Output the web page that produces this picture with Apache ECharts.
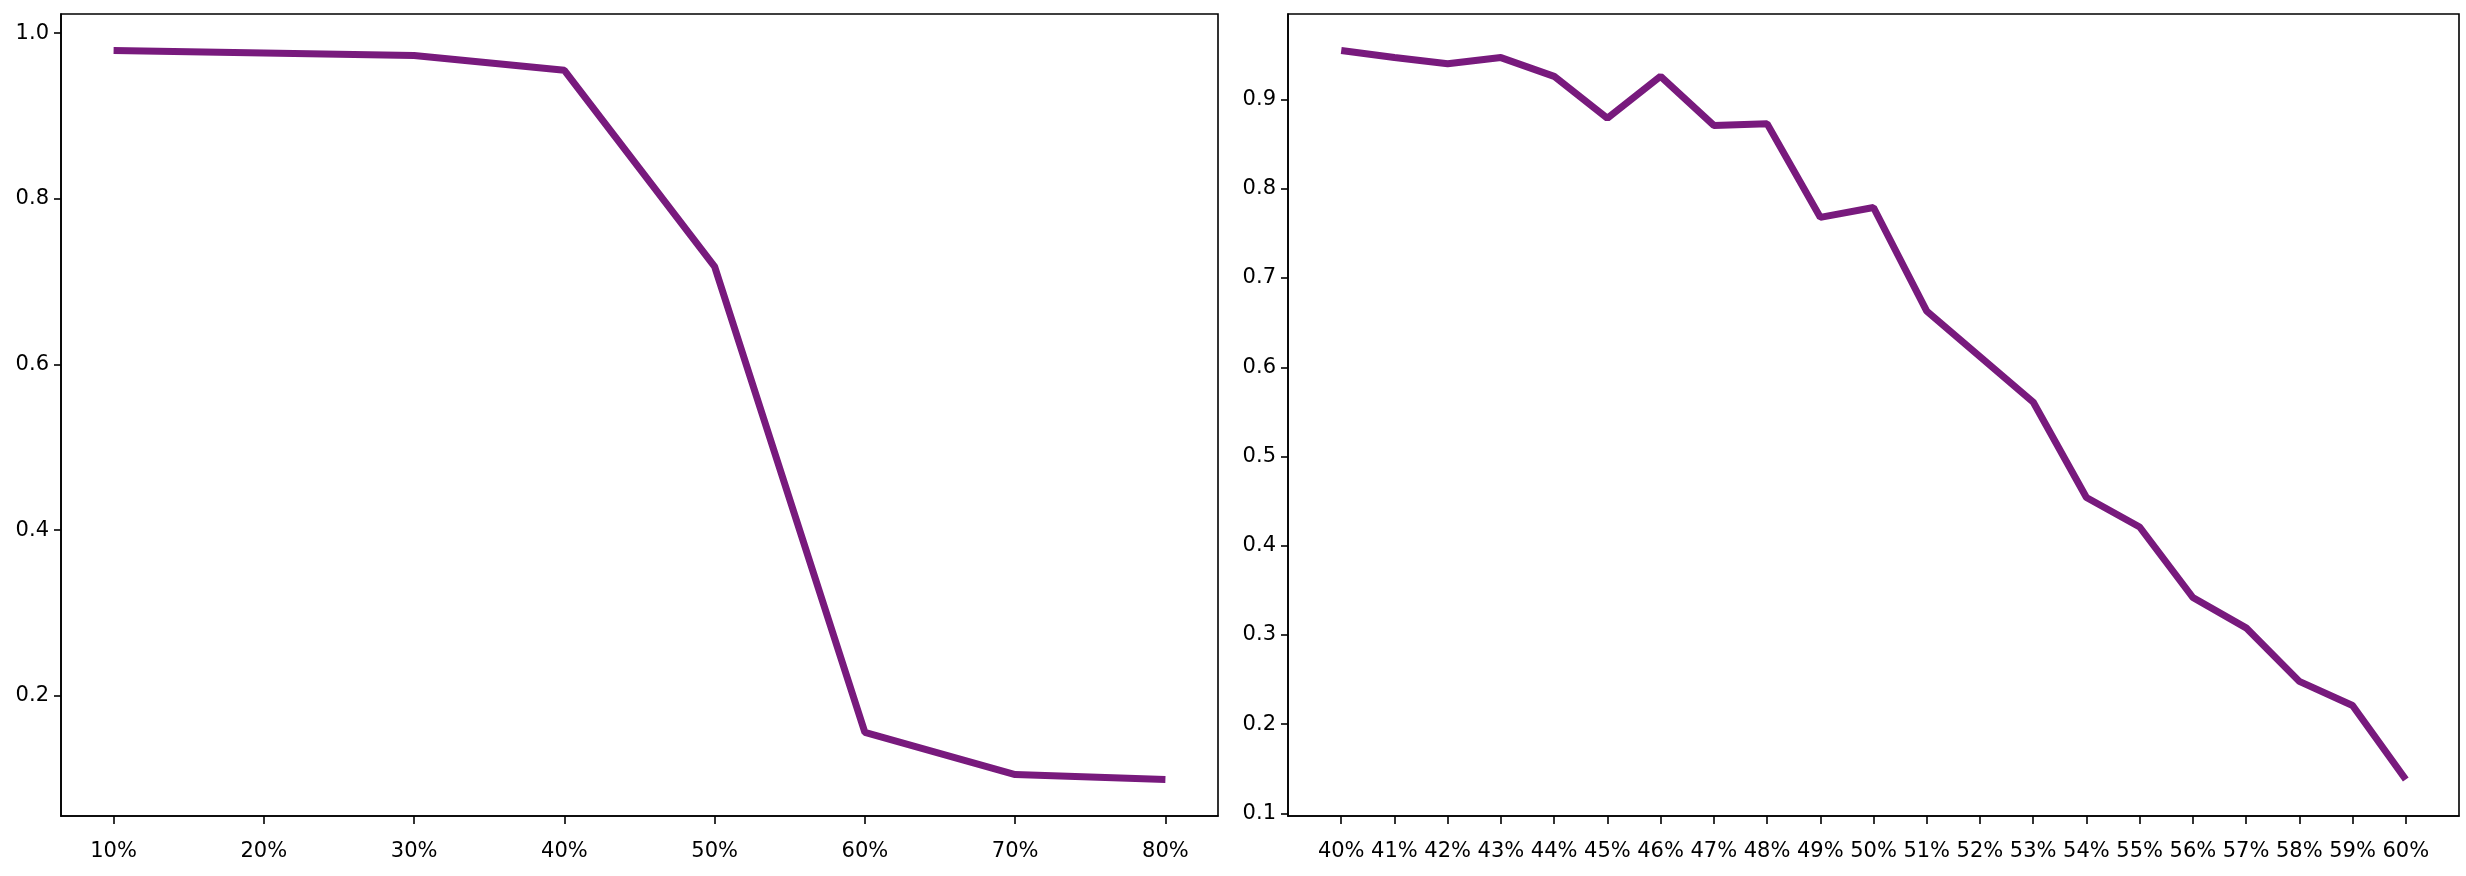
<!DOCTYPE html>
<html>
<head>
<meta charset="utf-8">
<script src="https://cdn.jsdelivr.net/npm/echarts@6/dist/echarts.min.js"></script>
<style>
  html, body { margin: 0; padding: 0; background: #ffffff; }
  #chart { width: 2466px; height: 876px; }
</style>
</head>
<body>
<div id="chart"></div>
<script>
// ---- data ----
var leftCategories = ['10%', '20%', '30%', '40%', '50%', '60%', '70%', '80%'];
var leftValues = [0.979, 0.976, 0.973, 0.955, 0.718, 0.156, 0.105, 0.099];
var leftYTicks = [0.2, 0.4, 0.6, 0.8, 1.0];

var rightCategories = ['40%', '41%', '42%', '43%', '44%', '45%', '46%', '47%', '48%', '49%', '50%',
  '51%', '52%', '53%', '54%', '55%', '56%', '57%', '58%', '59%', '60%'];
var rightValues = [0.955, 0.947, 0.940, 0.947, 0.926, 0.879, 0.926, 0.871, 0.873, 0.768, 0.779,
  0.663, 0.612, 0.561, 0.454, 0.421, 0.342, 0.308, 0.248, 0.221, 0.138];
var rightYTicks = [0.1, 0.2, 0.3, 0.4, 0.5, 0.6, 0.7, 0.8, 0.9];

// ---- helpers ----
function pairs(vals) { return vals.map(function (v, i) { return [i, v]; }); }
function range(n) { var a = []; for (var i = 0; i < n; i++) a.push(i); return a; }
function padded(vals) {
  var mn = Math.min.apply(null, vals), mx = Math.max.apply(null, vals);
  var m = (mx - mn) * 0.05;
  return [mn - m, mx + m];
}

var FONT = 'DejaVu Sans';
var LINE_COLOR = '#781a7d';
var AX = '#000000';

function xAxisFor(gridIndex, cats) {
  var n = cats.length;
  var margin = (n - 1) * 0.05;
  return {
    type: 'value', gridIndex: gridIndex, position: 'bottom',
    min: -margin, max: (n - 1) + margin,
    axisLine: { show: true, onZero: false, lineStyle: { color: AX, width: 1.6 } },
    axisTick: { show: true, customValues: range(n), length: 8, lineStyle: { color: AX, width: 1.6 } },
    axisLabel: {
      show: true, customValues: range(n), margin: 25,
      color: '#000', fontFamily: FONT, fontSize: 21,
      formatter: function (v) { return cats[Math.round(v)]; }
    },
    splitLine: { show: false }
  };
}

function yAxisFor(gridIndex, vals, ticks) {
  var ext = padded(vals);
  return {
    type: 'value', gridIndex: gridIndex, position: 'left',
    min: ext[0], max: ext[1],
    axisLine: { show: true, onZero: false, lineStyle: { color: AX, width: 1.6 } },
    axisTick: { show: true, customValues: ticks, length: 7, lineStyle: { color: AX, width: 1.6 } },
    axisLabel: {
      show: true, customValues: ticks, margin: 12,
      color: '#000', fontFamily: FONT, fontSize: 21,
      formatter: function (v) { return v.toFixed(1); }
    },
    splitLine: { show: false }
  };
}

var chart = echarts.init(document.getElementById('chart'), null, { renderer: 'canvas' });
chart.setOption({
  animation: false,
  backgroundColor: '#ffffff',
  grid: [
    { left: 61, top: 14, width: 1157, height: 802, show: true, borderColor: AX, borderWidth: 1.6, backgroundColor: 'transparent' },
    { left: 1288, top: 14, width: 1171, height: 802, show: true, borderColor: AX, borderWidth: 1.6, backgroundColor: 'transparent' }
  ],
  xAxis: [xAxisFor(0, leftCategories), xAxisFor(1, rightCategories)],
  yAxis: [yAxisFor(0, leftValues, leftYTicks), yAxisFor(1, rightValues, rightYTicks)],
  series: [
    {
      type: 'line', xAxisIndex: 0, yAxisIndex: 0, data: pairs(leftValues),
      showSymbol: false, lineStyle: { color: LINE_COLOR, width: 7 }, itemStyle: { color: LINE_COLOR }
    },
    {
      type: 'line', xAxisIndex: 1, yAxisIndex: 1, data: pairs(rightValues),
      showSymbol: false, lineStyle: { color: LINE_COLOR, width: 7 }, itemStyle: { color: LINE_COLOR }
    }
  ]
});
</script>
</body>
</html>
